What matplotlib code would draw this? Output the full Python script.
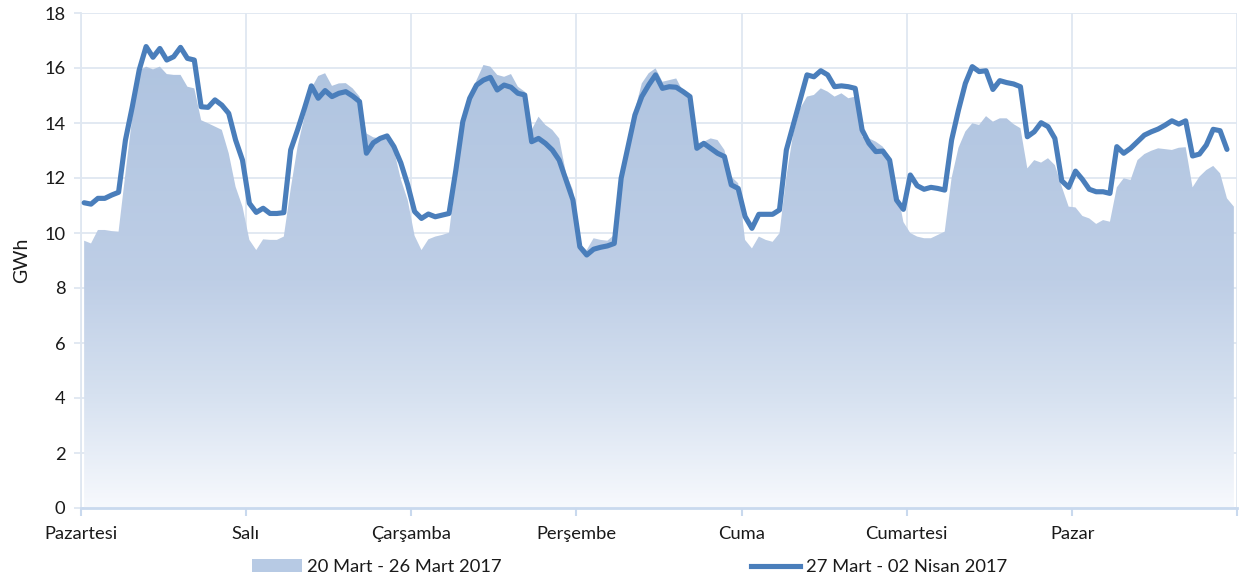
import numpy as np
import matplotlib
matplotlib.use('Agg')
import matplotlib.pyplot as plt
from matplotlib.colors import LinearSegmentedColormap
from matplotlib.patches import Patch
from matplotlib.lines import Line2D

plt.rcParams['font.family'] = ['Lato', 'DejaVu Sans']

days = ['Pazartesi', 'Salı', 'Çarşamba', 'Perşembe', 'Cuma', 'Cumartesi', 'Pazar']
series_labels = ['20 Mart - 26 Mart 2017', '27 Mart - 02 Nisan 2017']

# 20-26 Mart 2017 (hourly, GWh)
prev_week = [
    9.72, 9.62, 10.11, 10.11, 10.07, 10.05, 12.17, 14.23, 15.90, 16.05, 15.95, 16.05,
    15.78, 15.75, 15.75, 15.32, 15.26, 14.10, 13.99, 13.87, 13.75, 12.90, 11.68, 10.96,
    9.75, 9.38, 9.77, 9.75, 9.75, 9.87, 11.60, 13.14, 14.23, 15.26, 15.71, 15.81,
    15.35, 15.44, 15.45, 15.26, 14.96, 13.62, 13.48, 13.44, 13.50, 13.02, 11.95, 11.20,
    9.90, 9.38, 9.77, 9.87, 9.93, 10.01, 12.00, 13.87, 14.96, 15.56, 16.11, 16.05,
    15.75, 15.68, 15.78, 15.32, 15.14, 13.75, 14.23, 13.93, 13.75, 13.44, 12.17, 11.56,
    9.60, 9.38, 9.81, 9.75, 9.72, 9.93, 12.10, 13.38, 14.47, 15.44, 15.81, 15.99,
    15.50, 15.56, 15.62, 15.14, 15.02, 13.26, 13.32, 13.44, 13.38, 13.02, 12.05, 11.81,
    9.75, 9.44, 9.87, 9.75, 9.68, 9.99, 12.05, 13.62, 14.53, 14.96, 15.02, 15.26,
    15.14, 14.96, 15.08, 14.90, 14.96, 13.50, 13.44, 13.32, 13.14, 12.78, 11.69, 10.40,
    10.00, 9.87, 9.81, 9.81, 9.93, 10.05, 12.00, 13.10, 13.69, 13.99, 13.93, 14.25,
    14.05, 14.17, 14.17, 13.96, 13.81, 12.35, 12.65, 12.56, 12.72, 12.47, 11.69, 10.96,
    10.93, 10.62, 10.53, 10.33, 10.47, 10.41, 11.66, 11.99, 11.93, 12.65, 12.87, 12.99,
    13.08, 13.05, 13.02, 13.10, 13.12, 11.66, 12.05, 12.29, 12.44, 12.17, 11.26, 10.96,
]

# 27 Mart - 02 Nisan 2017 (hourly, GWh)
this_week = [
    11.10, 11.05, 11.26, 11.26, 11.38, 11.48, 13.38, 14.60, 15.93, 16.78, 16.39, 16.71,
    16.29, 16.41, 16.75, 16.35, 16.29, 14.59, 14.57, 14.84, 14.65, 14.35, 13.38, 12.65,
    11.08, 10.75, 10.90, 10.71, 10.71, 10.74, 13.02, 13.75, 14.53, 15.35, 14.90, 15.18,
    14.96, 15.08, 15.14, 14.98, 14.78, 12.90, 13.28, 13.44, 13.53, 13.14, 12.55, 11.75,
    10.78, 10.53, 10.69, 10.59, 10.65, 10.71, 12.30, 14.05, 14.90, 15.38, 15.56, 15.66,
    15.20, 15.38, 15.30, 15.08, 15.02, 13.32, 13.44, 13.26, 13.02, 12.65, 11.93, 11.20,
    9.50, 9.20, 9.41, 9.48, 9.53, 9.62, 11.99, 13.14, 14.29, 14.96, 15.38, 15.75,
    15.26, 15.32, 15.30, 15.14, 14.96, 13.08, 13.26, 13.08, 12.90, 12.78, 11.75, 11.62,
    10.60, 10.17, 10.68, 10.68, 10.68, 10.84, 13.02, 13.93, 14.84, 15.75, 15.68, 15.90,
    15.75, 15.32, 15.35, 15.32, 15.26, 13.75, 13.26, 12.96, 12.98, 12.65, 11.20, 10.86,
    12.11, 11.72, 11.59, 11.66, 11.62, 11.56, 13.38, 14.47, 15.44, 16.05, 15.87, 15.90,
    15.22, 15.54, 15.47, 15.42, 15.32, 13.50, 13.68, 14.01, 13.87, 13.44, 11.90, 11.66,
    12.25, 11.95, 11.59, 11.50, 11.50, 11.44, 13.14, 12.90, 13.08, 13.32, 13.56, 13.68,
    13.78, 13.92, 14.08, 13.96, 14.08, 12.80, 12.87, 13.20, 13.77, 13.72, 13.04,
]

line_color = '#4a7ebb'
grid_color = '#dfe7f1'
axis_color = '#c9d9ee'
text_color = '#1a1a1a'

W, H = 1239, 583
fig = plt.figure(figsize=(W / 100, H / 100), dpi=100)
ax = fig.add_axes([80.7 / W, 1 - 508 / H, (1237.3 - 80.7) / W, 495 / H])

x_prev = np.arange(len(prev_week)) + 0.5
x_this = np.arange(len(this_week)) + 0.5

# gradient-filled area
poly = ax.fill_between(x_prev, 0, prev_week, facecolor='none', edgecolor='none', zorder=2)
cmap = LinearSegmentedColormap.from_list('g', [
    (0.0, (247 / 255, 249 / 255, 253 / 255)),
    (0.25, (214 / 255, 225 / 255, 240 / 255)),
    (0.5, (190 / 255, 206 / 255, 230 / 255)),
    (1.0, (175 / 255, 196 / 255, 224 / 255)),
])
grad = np.linspace(0, 1, 256).reshape(-1, 1)
im = ax.imshow(grad, extent=[0, 168, 0, 16.5], origin='lower', aspect='auto',
               cmap=cmap, zorder=2, interpolation='bilinear')
im.set_clip_path(poly.get_paths()[0], transform=ax.transData)

ax.plot(x_this, this_week, color=line_color, lw=3.7, solid_joinstyle='round',
        solid_capstyle='round', zorder=3)

ax.set_xlim(0, 168)
ax.set_ylim(0, 18)
ax.set_aspect('auto')
ax.set_yticks(range(0, 19, 2))
ax.set_xticks(range(0, 169, 24))
ax.set_xticklabels(days + [''])
ax.grid(True, color=grid_color, lw=1.3, zorder=0)
ax.set_axisbelow(True)

for s in ['top', 'right']:
    ax.spines[s].set_visible(False)
ax.spines['left'].set_color(grid_color)
ax.spines['left'].set_linewidth(1.3)
ax.spines['bottom'].set_color(axis_color)
ax.spines['bottom'].set_linewidth(2.0)
ax.tick_params(axis='x', length=6, width=1.5, color=axis_color, labelsize=13.2,
               pad=7, labelcolor=text_color)
ax.tick_params(axis='y', length=5, width=1.3, color=grid_color, labelsize=13.2,
               pad=6, labelcolor=text_color)
ax.set_ylabel('GWh', fontsize=14, labelpad=10, color=text_color)

handles = [Patch(facecolor='#b7cae4', edgecolor='none'),
           Line2D([], [], color=line_color, lw=3.7)]
fig.legend(handles=handles, labels=series_labels, ncol=2, loc='center left',
           bbox_to_anchor=(252 / W, 1 - 567 / H), frameon=False, fontsize=13.2,
           handlelength=2.7, handletextpad=0.3, columnspacing=13.6,
           borderaxespad=0, borderpad=0, labelcolor=text_color)

fig.savefig('out.png', dpi=100)
